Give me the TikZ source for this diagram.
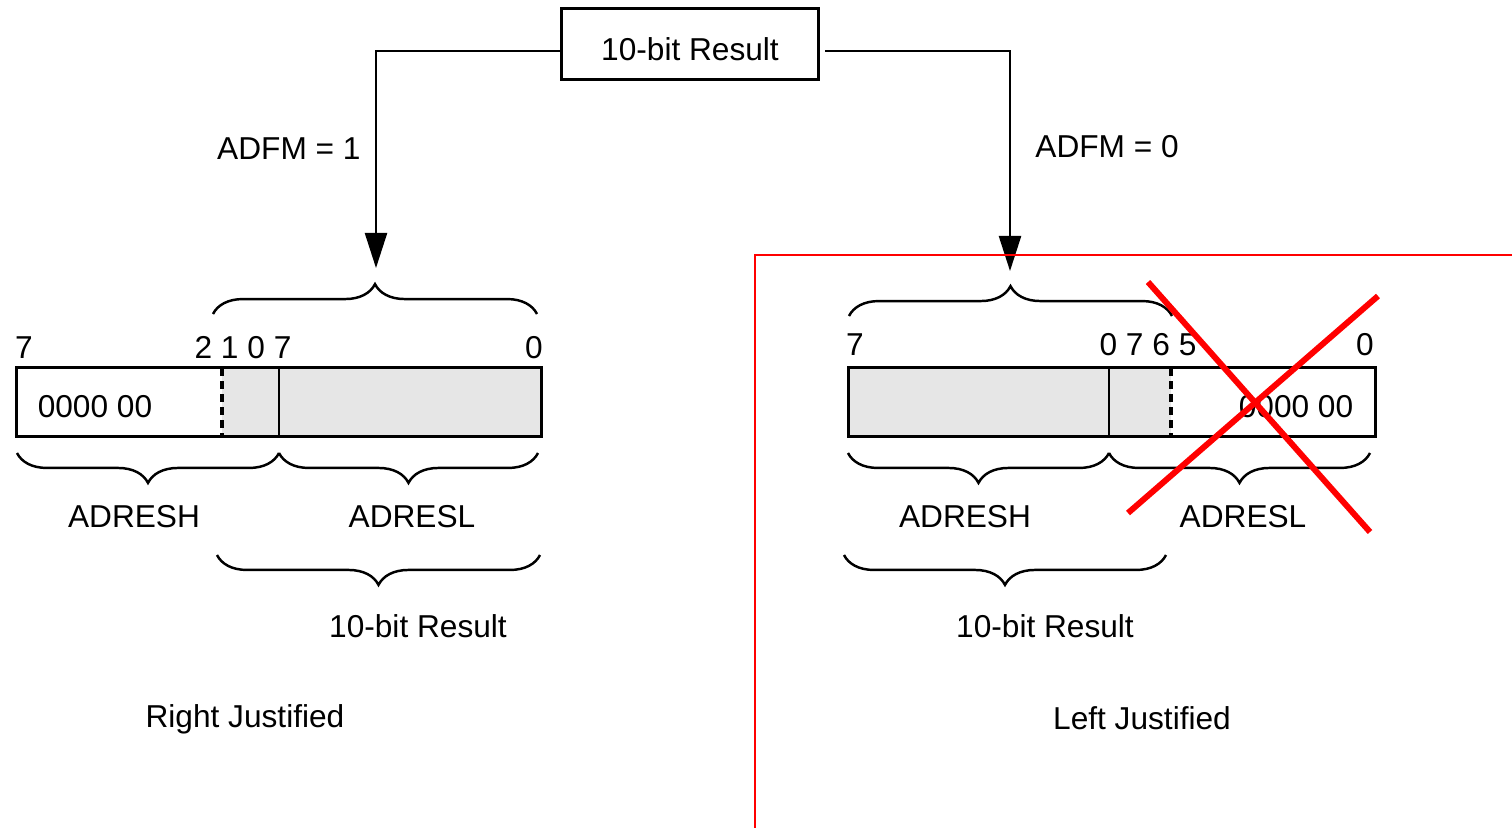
\documentclass[tikz,border=0pt]{standalone}
\usepackage{fontspec}
\setmainfont{Liberation Sans}
\usetikzlibrary{arrows.meta,positioning,calc,decorations.pathreplacing}
\definecolor{regGray}{HTML}{E6E6E6}
\definecolor{markRed}{HTML}{FF0000}
\tikzset{
  regbox/.style={draw, line width=0.85pt, minimum height=0.68cm, inner sep=0pt},
  braceup/.style={decorate, decoration={brace, amplitude=8.5pt}, line width=0.7pt},
  bracedown/.style={decorate, decoration={brace, amplitude=8.5pt, mirror}, line width=0.7pt},
  flow/.style={line width=0.6pt, -{Triangle[length=10pt,width=6.3pt]}},
  bitsep/.style={line width=0.9pt, dash pattern=on 2.3pt off 1.4pt},
  crossout/.style={markRed, line width=1.7pt},
}
\begin{document}
\begin{tikzpicture}[x=0.01cm, y=-0.01cm, font=\fontsize{9}{11}\selectfont]
\useasboundingbox (0,0) rectangle (1512,827);
% source
\node[draw, line width=0.85pt, minimum width=2.57cm, minimum height=0.70cm, text height=9.3pt, text depth=0pt] (Res) at (690,44) {10-bit Result};
\coordinate (LTip) at (376,268);
\coordinate (RTip) at (1010,271);
\draw[flow] ($(Res.west)+(0,7)$) -| (LTip);
\draw[flow] ($(Res.east)+(5,7)$) -| (RTip);
\node[anchor=east] (Lmode) at (373,149) {ADFM = 1};
\node[anchor=west] (Rmode) at (1023,147) {ADFM = 0};
% left justified frame
\draw[markRed, line width=0.6pt] (755,830) |- (1515,255);
% right justified register
\fill[regGray] (222,368) rectangle (541,436);
\node[regbox, minimum width=5.24cm] (Lreg) at (279,402) {};
\draw[bitsep] (222,368) -- (222,436);
\draw[line width=0.85pt] (279,368) -- (279,436);
\node (Lfill) at (95,407) {0000 00};
\node (Lb7) at (24,348) {7};
\node (Lbmid) at (243,348) {2 1 0 7};
\node (Lb0) at (534,348) {0};
\draw[braceup] (213,314) -- (537,314);
\draw[bracedown] (17,453) -- (279,453);
\draw[bracedown] (279,453) -- (538,453);
\node (LH) at (134,517) {ADRESH};
\node (LL) at (412,517) {ADRESL};
\draw[bracedown] (217,555) -- (540,555);
\node (Lres) at (418,626) {10-bit Result};
\node (Ljust) at (245,719) {Right Justified};
% left justified register
\fill[regGray] (849,368) rectangle (1171,436);
\node[regbox, minimum width=5.26cm] (Rreg) at (1112,402) {};
\draw[line width=0.6pt] (1109,368) -- (1109,436);
\draw[bitsep] (1171,368) -- (1171,436);
\node (Rfill) at (1296,407) {0000 00};
\node (Rb7) at (855,345) {7};
\node (Rbmid) at (1148,345) {0 7 6 5};
\node (Rb0) at (1365,345) {0};
\draw[braceup] (849,316) -- (1172,316);
\draw[bracedown] (848,453) -- (1109,453);
\draw[bracedown] (1109,453) -- (1370,453);
\node (RH) at (965,517) {ADRESH};
\node (RL) at (1243,517) {ADRESL};
\draw[bracedown] (844,555) -- (1166,555);
\node (Rres) at (1045,626) {10-bit Result};
\node (Rjust) at (1142,718) {Left Justified};
% unused bits crossed out
\draw[crossout] (1148,282) -- (1370,532);
\draw[crossout] (1378,296) -- (1128,513);
\end{tikzpicture}
\end{document}
